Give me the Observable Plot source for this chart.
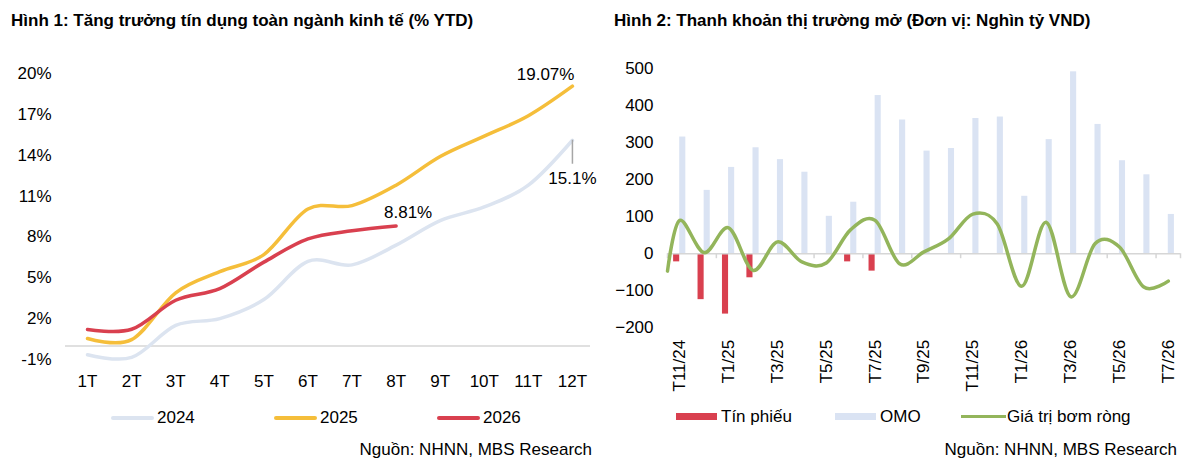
<!DOCTYPE html>
<html>
<head>
<meta charset="utf-8">
<script src="https://cdn.jsdelivr.net/npm/d3@7"></script>
<script src="https://cdn.jsdelivr.net/npm/@observablehq/plot@0.6"></script>
<style>
  html, body { margin: 0; padding: 0; background: #fff; }
  body { position: relative; width: 1200px; height: 470px; overflow: hidden;
         font-family: "Liberation Sans", Arial, sans-serif; color: #000; }
  .abs { position: absolute; }
  .title { font-weight: bold; font-size: 17px; line-height: 17px; top: 12px; white-space: nowrap; }
  .txt { font-size: 17px; line-height: 17px; white-space: nowrap; }
  .src { font-size: 17px; line-height: 17px; white-space: nowrap; text-align: right; }
  #left, #right { position: absolute; top: 40px; }
  #left { left: 0; } #right { left: 600px; }
</style>
</head>
<body>
<div class="abs title" style="left:11px">Hình 1: Tăng trưởng tín dụng toàn ngành kinh tế (% YTD)</div>
<div class="abs title" style="left:614px">Hình 2: Thanh khoản thị trường mở (Đơn vị: Nghìn tỷ VND)</div>
<div id="left"></div>
<div id="right"></div>

<div class="abs" style="left:111px;top:416px;width:43px;height:4px;border-radius:2px;background:#dce4f0"></div>
<div class="abs txt" style="left:157px;top:409px">2024</div>
<div class="abs" style="left:274px;top:416px;width:43px;height:4px;border-radius:2px;background:#f5be3a"></div>
<div class="abs txt" style="left:320px;top:409px">2025</div>
<div class="abs" style="left:437px;top:416px;width:43px;height:4px;border-radius:2px;background:#d9404f"></div>
<div class="abs txt" style="left:483px;top:409px">2026</div>
<div class="abs src" style="right:608px;top:441px">Nguồn: NHNN, MBS Research</div>

<div class="abs" style="left:676px;top:413px;width:41px;height:7px;background:#d9404f"></div>
<div class="abs txt" style="left:721px;top:408px">Tín phiếu</div>
<div class="abs" style="left:835px;top:413px;width:41px;height:7px;background:#dae3f3"></div>
<div class="abs txt" style="left:880px;top:408px">OMO</div>
<div class="abs" style="left:961px;top:415px;width:45px;height:3px;background:#93b55b"></div>
<div class="abs txt" style="left:1007px;top:408px">Giá trị bơm ròng</div>
<div class="abs src" style="right:23px;top:441px">Nguồn: NHNN, MBS Research</div>

<script>
// ---------- Chart 1 data ----------
const months = [1, 2, 3, 4, 5, 6, 7, 8, 9, 10, 11, 12];
const monthLabels = ["1T", "2T", "3T", "4T", "5T", "6T", "7T", "8T", "9T", "10T", "11T", "12T"];
const credit2024 = [-0.65, -0.85, 1.5, 2.0, 3.4, 6.2, 5.95, 7.4, 9.2, 10.2, 11.8, 15.1];
const credit2025 = [0.54, 0.46, 3.9, 5.45, 6.7, 10.05, 10.3, 11.8, 13.9, 15.4, 16.9, 19.07];
const credit2026 = [1.2, 1.22, 3.35, 4.2, 6.15, 7.85, 8.45, 8.81];
const pctTicks = [-1, 2, 5, 8, 11, 14, 17, 20];

// ---------- Chart 2 data ----------
const periods = ["T11/24", "T12/24", "T1/25", "T2/25", "T3/25", "T4/25", "T5/25", "T6/25", "T7/25",
  "T8/25", "T9/25", "T10/25", "T11/25", "T12/25", "T1/26", "T2/26", "T3/26", "T4/26", "T5/26",
  "T6/26", "T7/26"];
const tinPhieu = [-22, -124, -163, -65, 0, 0, 0, -22, -47, 0, 0, 0, 0, 0, 0, 0, 0, 0, 0, 0, 0];
const omo = [315, 171, 233, 286, 254, 220, 101, 139, 427, 361, 277, 284, 365, 369, 155, 308, 491,
  349, 251, 213, 106];
const netInjectionStart = -47; // value where the line enters at the left edge of the axis
const netInjection = [90, 3, 70, -45, 32, -22, -25, 65, 90, -27, 5, 40, 107, 80, -88, 85, -116,
  27, 18, -90, -74];
const valueTicks = [-200, -100, 0, 100, 200, 300, 400, 500];

const font = '"Liberation Sans", Arial, sans-serif';
const C2024 = "#dce4f0", C2025 = "#f5be3a", C2026 = "#d9404f", CGREEN = "#93b55b", COMO = "#dae3f3";

const toPts = (vals) => vals.map((v, i) => ({x: months[i], y: v}));
const s2024 = toPts(credit2024), s2025 = toPts(credit2025), s2026 = toPts(credit2026);
const lastOf = (a) => [a[a.length - 1]];
const pctLabel = (d) => `${d.y}%`;

const left = Plot.plot({
  width: 600, height: 360,
  marginTop: 33, marginBottom: 41, marginLeft: 65, marginRight: 10,
  x: {domain: [0.5, 12.41]},
  y: {domain: [-1, 20]},
  style: {fontSize: "17px", fontFamily: font, color: "#000", background: "transparent"},
  marks: [
    Plot.ruleY([0], {stroke: "#d6d6d6", strokeWidth: 1.5}),
    Plot.axisY({ticks: pctTicks, tickFormat: (d) => `${d}%`, tickSize: 0, tickPadding: 14, label: null}),
    Plot.axisX({ticks: months, tickFormat: (m) => monthLabels[m - 1], tickSize: 0, tickPadding: 15, label: null}),
    Plot.line(s2024, {x: "x", y: "y", curve: "cardinal", stroke: C2024, strokeWidth: 3.5}),
    Plot.line(s2025, {x: "x", y: "y", curve: "cardinal", stroke: C2025, strokeWidth: 3.5}),
    Plot.line(s2026, {x: "x", y: "y", curve: "cardinal", stroke: C2026, strokeWidth: 3.5}),
    Plot.ruleX(lastOf(s2024), {x: "x", y1: "y", y2: "y", insetBottom: -24, stroke: "#a6a6a6", strokeWidth: 1.5}),
    Plot.text(lastOf(s2025), {x: "x", y: "y", text: pctLabel, textAnchor: "end", dx: 2, dy: -12}),
    Plot.text(lastOf(s2024), {x: "x", y: "y", text: pctLabel, textAnchor: "middle", dy: 38}),
    Plot.text(lastOf(s2026), {x: "x", y: "y", text: pctLabel, textAnchor: "middle", dx: 12, dy: -13})
  ]
});
document.getElementById("left").append(left);

const idx = periods.map((_, i) => i);
const netPts = [{x: -0.5, y: netInjectionStart}, ...netInjection.map((v, i) => ({x: i, y: v}))];
const labelIdx = idx.filter((i) => i % 2 === 0);
const boundaries = labelIdx.map((i) => i - 0.5).concat([periods.length - 0.5]);

const right = Plot.plot({
  width: 600, height: 360,
  marginTop: 28, marginBottom: 72.7, marginLeft: 67, marginRight: 20,
  x: {domain: [-0.5, periods.length - 0.5]},
  y: {domain: [-200, 500]},
  style: {fontSize: "17px", fontFamily: font, color: "#000", background: "transparent"},
  marks: [
    Plot.rectY(idx, {x1: (i) => i, x2: (i) => i + 0.25, y: (i) => omo[i], fill: COMO, inset: 0}),
    Plot.rectY(idx, {x1: (i) => i - 0.25, x2: (i) => i, y: (i) => tinPhieu[i], fill: C2026, inset: 0}),
    Plot.ruleY([0], {stroke: "#d6d6d6", strokeWidth: 1.5}),
    Plot.ruleX(boundaries, {x: (d) => d, y1: 0, y2: 0, insetBottom: -5, stroke: "#d6d6d6", strokeWidth: 1.5}),
    Plot.line(netPts, {x: "x", y: "y", curve: "cardinal", stroke: CGREEN, strokeWidth: 3.5}),
    Plot.axisY({ticks: valueTicks, tickSize: 0, tickPadding: 14, label: null}),
    Plot.axisX({ticks: labelIdx, tickFormat: (i) => periods[i], tickRotate: -90, tickSize: 0, tickPadding: 12, label: null})
  ]
});
document.getElementById("right").append(right);
</script>
</body>
</html>
